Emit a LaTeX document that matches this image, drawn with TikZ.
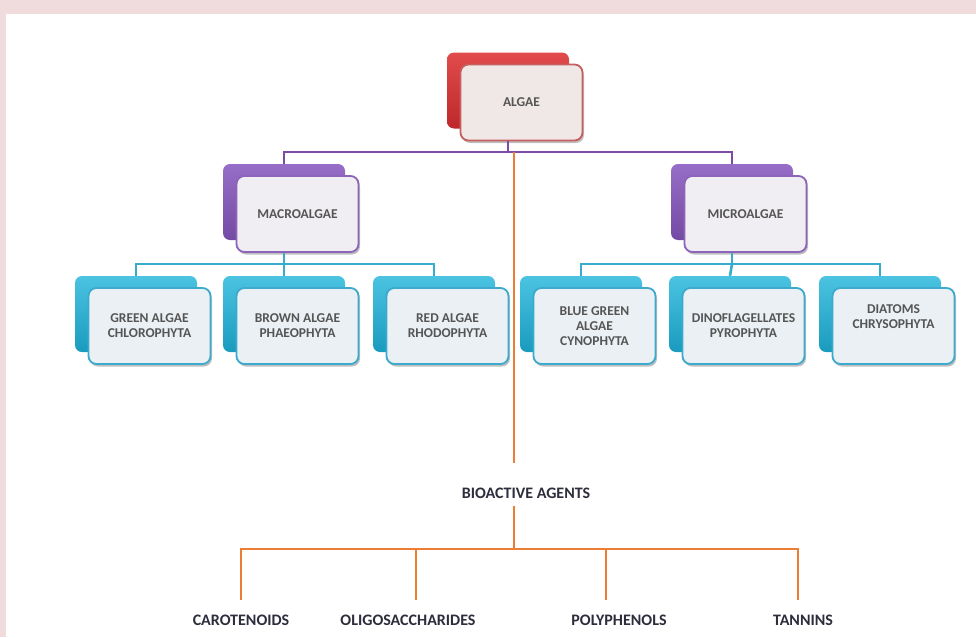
\documentclass[tikz,border=0pt]{standalone}
\usepackage{fontspec}
\setmainfont{Carlito}
\usetikzlibrary{shadows}
\definecolor{pinkbg}{RGB}{240,219,221}
\definecolor{redT}{RGB}{225,75,75}
\definecolor{redB}{RGB}{190,40,42}
\definecolor{redE}{RGB}{200,95,95}
\definecolor{redF}{RGB}{240,231,231}
\definecolor{purT}{RGB}{150,110,200}
\definecolor{purB}{RGB}{115,75,165}
\definecolor{purE}{RGB}{140,100,185}
\definecolor{purF}{RGB}{240,238,242}
\definecolor{cyaT}{RGB}{75,195,225}
\definecolor{cyaB}{RGB}{25,155,190}
\definecolor{cyaE}{RGB}{60,170,205}
\definecolor{cyaF}{RGB}{234,240,243}
\definecolor{purline}{RGB}{125,75,165}
\definecolor{cyaline}{RGB}{55,172,205}
\definecolor{orgline}{RGB}{236,125,52}
\definecolor{boxtext}{RGB}{85,85,85}
\definecolor{leaftext}{RGB}{45,45,60}
\tikzset{
  backbox/.style={rounded corners=7pt, minimum width=122pt, minimum height=76pt, inner sep=0pt},
  frontbox/.style={draw, line width=1.8pt, rounded corners=8pt, minimum width=122pt, minimum height=76pt,
    align=center, text=boxtext, font=\fontsize{13.5}{15}\selectfont\bfseries,
    drop shadow={shadow xshift=1.5pt, shadow yshift=-2.5pt, opacity=.25, fill=black}},
  redback/.style={top color=redT, bottom color=redB},
  redfront/.style={draw=redE, fill=redF},
  purback/.style={top color=purT, bottom color=purB},
  purfront/.style={draw=purE, fill=purF},
  cyaback/.style={top color=cyaT, bottom color=cyaB},
  cyafront/.style={draw=cyaE, fill=cyaF},
  purconn/.style={draw=purline, line width=2.6pt},
  cyaconn/.style={draw=cyaline, line width=2.6pt},
  orgconn/.style={draw=orgline, line width=2.6pt},
  leaf/.style={text=leaftext, font=\fontsize{16}{18}\selectfont\bfseries}
}
% back box at (x,y), front box shifted down right
\newcommand{\twobox}[6][]{%
  \node[backbox,#5back] (#2-b) at (#3,#4) {};
  \node[frontbox,#5front,#1] (#2) at (#3+13.5,#4+12) {#6};}

\begin{document}
\begin{tikzpicture}[x=1pt,y=-1pt]
\useasboundingbox (0,0) rectangle (976,637);
\fill[pinkbg] (0,0) rectangle (976,637);
\fill[white] (6,14) rectangle (976,637);

\twobox{algae}{508}{90.5}{red}{ALGAE}
\twobox{macro}{284}{202}{pur}{MACROALGAE}
\twobox{micro}{732}{202}{pur}{MICROALGAE}
\twobox{green}{136}{314}{cya}{GREEN ALGAE\\CHLOROPHYTA}
\twobox{brown}{284}{314}{cya}{BROWN ALGAE\\PHAEOPHYTA}
\twobox{red}{434}{314}{cya}{RED ALGAE\\RHODOPHYTA}
\twobox{blue}{581}{314}{cya}{BLUE GREEN\\ALGAE\\CYNOPHYTA}
\twobox{dino}{730}{314}{cya}{DINOFLAGELLATES\\PYROPHYTA}
\twobox[text depth=18pt]{diat}{880}{314}{cya}{DIATOMS\\CHRYSOPHYTA}

\coordinate (pbus) at (508,152);
\coordinate (lbus) at (284,264);
\coordinate (rbus) at (732,264);
\coordinate (otop) at (514,152);
\coordinate (obus) at (514,549);

\draw[purconn] (algae-b.south |- algae.south) -- (pbus);
\draw[purconn] (macro-b.north) |- (pbus) -| (micro-b.north);
\draw[cyaconn] (macro-b.south |- macro.south) -- (lbus);
\draw[cyaconn] (green-b.north) |- (lbus) -| (red-b.north);
\draw[cyaconn] (lbus) -- (brown-b.north);
\draw[cyaconn] (micro-b.south |- micro.south) -- (rbus);
\draw[cyaconn] (blue-b.north) |- (rbus) -| (diat-b.north);
\draw[cyaconn] (rbus) -- (dino-b.north);

\node[leaf] (bio) at (526,493) {BIOACTIVE AGENTS};
\node[leaf] (caro) at (241,620) {CAROTENOIDS};
\node[leaf] (oligo) at (408,620) {OLIGOSACCHARIDES};
\node[leaf] (poly) at (619,620) {POLYPHENOLS};
\node[leaf] (tann) at (803,620) {TANNINS};

\draw[orgconn, shorten >=21pt] (otop) -- (otop |- bio.north);
\draw[orgconn, shorten <=4pt] (otop |- bio.south) -- (obus);
\draw[orgconn, shorten <=11pt, shorten >=11pt] (caro.north) |- (obus) -| ([xshift=-5pt]tann.north);
\draw[orgconn, shorten >=11pt] (obus) -| ([xshift=8pt]oligo.north);
\draw[orgconn, shorten >=11pt] (obus) -| ([xshift=-13pt]poly.north);
\end{tikzpicture}
\end{document}
